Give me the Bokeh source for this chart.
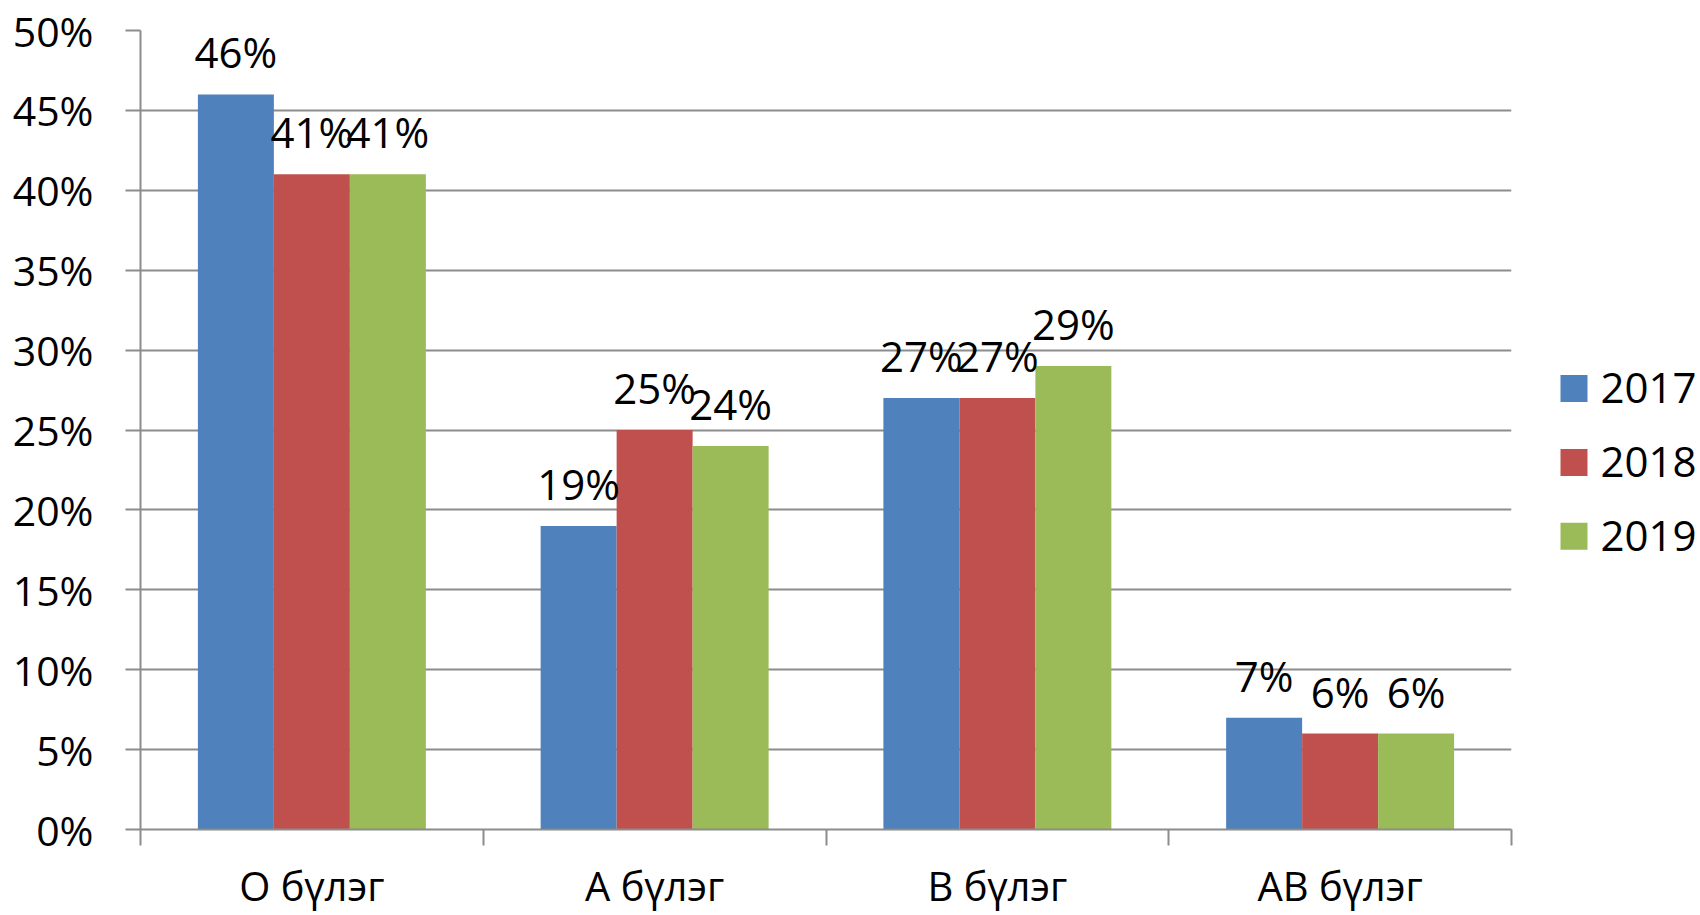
from bokeh.plotting import figure
from bokeh.models import (ColumnDataSource, Range1d, FixedTicker, NumeralTickFormatter, LabelSet)
from bokeh.core.properties import value
from bokeh.transform import dodge
from bokeh.layouts import row
from bokeh.embed import file_html
from bokeh.resources import INLINE

categories = ["О бүлэг", "А бүлэг", "В бүлэг", "АВ бүлэг"]
years = ["2017", "2018", "2019"]
v2017 = [0.46, 0.19, 0.27, 0.07]
v2018 = [0.41, 0.25, 0.27, 0.06]
v2019 = [0.41, 0.24, 0.29, 0.06]
colors = ["#4F81BD", "#C0504D", "#9BBB59"]
y_ticks = [0.0, 0.05, 0.10, 0.15, 0.20, 0.25, 0.30, 0.35, 0.40, 0.45, 0.50]

FONT = "Open Sans"
GRID = "#8C8C8C"

centers = [i + 0.5 for i in range(len(categories))]
src = ColumnDataSource(dict(
    x=centers,
    y2017=v2017, y2018=v2018, y2019=v2019,
    l2017=[f"{round(v*100)}%" for v in v2017],
    l2018=[f"{round(v*100)}%" for v in v2018],
    l2019=[f"{round(v*100)}%" for v in v2019],
))

TOP, BOTTOM = 30, 85

# ---------------- main chart ----------------
p = figure(width=1530, height=915, output_backend="svg", toolbar_location=None,
           x_range=Range1d(0, len(categories)), y_range=Range1d(0, 0.5))
p.min_border_left = 140
p.min_border_top = TOP
p.min_border_bottom = BOTTOM
p.min_border_right = 19
p.outline_line_color = None
p.background_fill_color = "white"
p.border_fill_color = "white"

bw = 0.2217
offsets = [-bw, 0.0, bw]
for yr, off, col in zip(years, offsets, colors):
    p.vbar(x=dodge("x", off, range=p.x_range), top="y" + yr, width=bw, source=src,
           fill_color=col, line_color=None)
    p.add_layout(LabelSet(x=dodge("x", off, range=p.x_range), y="y" + yr, text="l" + yr,
                          source=src, text_align="center", text_baseline="alphabetic",
                          y_offset=26, text_font=value(FONT), text_font_size="42px",
                          text_color="black"))

# y axis
p.yaxis.ticker = FixedTicker(ticks=y_ticks)
p.yaxis.formatter = NumeralTickFormatter(format="0%")
p.yaxis.major_tick_out = 15
p.yaxis.major_tick_in = 0
p.yaxis.minor_tick_line_color = None
p.yaxis.axis_line_color = GRID
p.yaxis.axis_line_width = 2
p.yaxis.major_tick_line_color = GRID
p.yaxis.major_tick_line_width = 2
p.yaxis.major_label_text_font = FONT
p.yaxis.major_label_text_font_size = "41px"
p.yaxis.major_label_text_color = "black"
p.yaxis.major_label_standoff = 32

# x axis: labels at category centres, tick marks at category boundaries
p.xaxis.ticker = FixedTicker(ticks=centers, minor_ticks=list(range(len(categories) + 1)))
p.xaxis.major_label_overrides = {c: n for c, n in zip(centers, categories)}
p.xaxis.major_tick_line_color = None
p.xaxis.major_tick_out = 0
p.xaxis.major_tick_in = 0
p.xaxis.minor_tick_out = 16
p.xaxis.minor_tick_in = 0
p.xaxis.minor_tick_line_color = GRID
p.xaxis.minor_tick_line_width = 2
p.xaxis.axis_line_color = GRID
p.xaxis.axis_line_width = 2
p.xaxis.major_label_text_font = FONT
p.xaxis.major_label_text_font_size = "40px"
p.xaxis.major_label_text_color = "black"
p.xaxis.major_label_standoff = 12

p.xgrid.grid_line_color = None
p.ygrid.grid_line_color = GRID
p.ygrid.grid_line_width = 2

# ---------------- legend panel ----------------
leg_src = ColumnDataSource(dict(
    label=years, color=colors,
    sx=[1573.5] * len(years),
    sy=[388.5 + 74 * i for i in range(len(years))],
    tx=[1600] * len(years),
    ty=[388 + 74 * i for i in range(len(years))],
))
lg = figure(width=170, height=915, output_backend="svg", toolbar_location=None,
            x_range=Range1d(1530, 1700), y_range=Range1d(915 - BOTTOM, TOP),
            min_border=0, outline_line_color=None)
lg.min_border_top = TOP
lg.min_border_bottom = BOTTOM
lg.axis.visible = False
lg.grid.visible = False
lg.background_fill_color = "white"
lg.border_fill_color = "white"
lg.scatter(x="sx", y="sy", marker="square", size=27, fill_color="color",
           line_color=None, source=leg_src)
lg.text(x="tx", y="ty", text="label", source=leg_src, text_baseline="alphabetic",
        text_align="left", text_font=value(FONT), text_font_size="42px", text_color="black")

layout = row(p, lg, spacing=0)
open("out.html", "w").write(file_html(layout, INLINE))
